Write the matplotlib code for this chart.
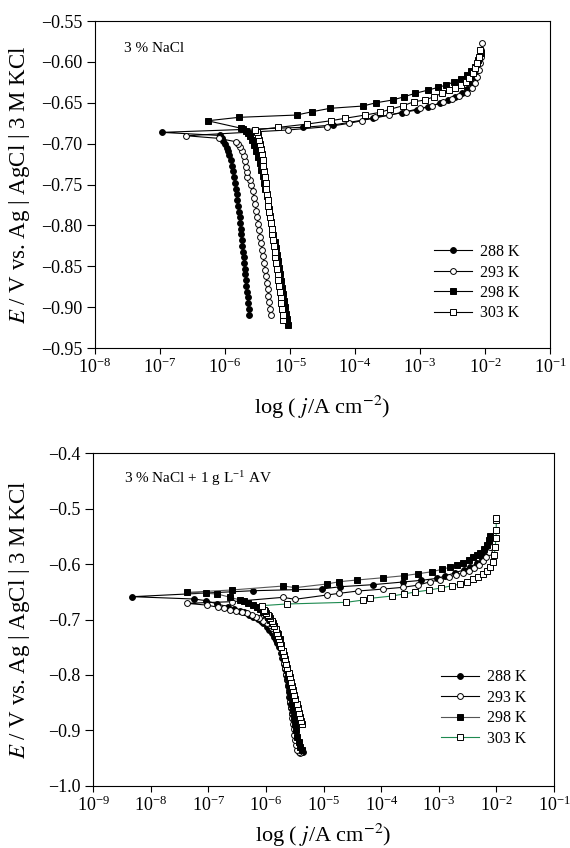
import matplotlib
matplotlib.use("Agg")
import matplotlib.pyplot as plt
import numpy as np
from matplotlib.ticker import FuncFormatter, LogLocator, NullLocator

plt.rcParams['font.family'] = ['Liberation Serif', 'DejaVu Serif']
plt.rcParams['mathtext.fontset'] = 'stix'

temps = ["288 K", "293 K", "298 K", "303 K"]

# ---- panel 1 : 3 % NaCl  (log10 j, E)  cathodic -> Ecorr -> anodic
a_288_logj = [-5.626, -5.634, -5.643, -5.652, -5.661, -5.670, -5.679, -5.688, -5.697, -5.706,
              -5.715, -5.724, -5.732, -5.741, -5.750, -5.759, -5.768, -5.777, -5.787, -5.798,
              -5.809, -5.821, -5.834, -5.848, -5.862, -5.878, -5.895, -5.913, -5.933, -5.955,
              -5.975, -6.00, -6.03, -6.05, -6.077,
              -6.974,
              -4.795, -4.334, -3.718, -3.283, -3.052, -2.872, -2.692, -2.564, -2.462, -2.36,
              -2.283, -2.206, -2.154, -2.128, -2.103]
a_288_E = [-0.909, -0.902, -0.895, -0.888, -0.881, -0.874, -0.867, -0.860, -0.853, -0.846,
           -0.839, -0.832, -0.825, -0.818, -0.811, -0.804, -0.797, -0.790, -0.783, -0.776,
           -0.769, -0.762, -0.755, -0.748, -0.741, -0.734, -0.727, -0.720, -0.714, -0.709,
           -0.705, -0.701, -0.697, -0.693, -0.690,
           -0.6862,
           -0.680, -0.6772, -0.669, -0.6621, -0.6589, -0.6548, -0.6507, -0.6466, -0.6434, -0.6385,
           -0.6336, -0.6262, -0.6181, -0.6099, -0.6017]

a_293_logj = [-5.292, -5.305, -5.318, -5.331, -5.344, -5.357, -5.370, -5.384, -5.398, -5.412,
              -5.427, -5.442, -5.457, -5.472, -5.488, -5.504, -5.520, -5.537, -5.555, -5.574,
              -5.594, -5.610, -5.655, -5.668, -5.683, -5.697, -5.715, -5.737, -5.765, -5.795,
              -5.836, -6.10,
              -6.60,
              -5.035, -4.426, -4.087, -3.897, -3.692, -3.477, -3.215, -3.0, -2.82, -2.642,
              -2.513, -2.40, -2.283, -2.206, -2.154, -2.118, -2.092, -2.077, -2.066, -2.056, -2.046]
a_293_E = [-0.910, -0.902, -0.894, -0.886, -0.878, -0.870, -0.862, -0.854, -0.846, -0.838,
           -0.830, -0.822, -0.814, -0.806, -0.798, -0.790, -0.782, -0.774, -0.766, -0.758,
           -0.750, -0.744, -0.741, -0.735, -0.728, -0.721, -0.715, -0.709, -0.704, -0.700,
           -0.6976, -0.6935,
           -0.6903,
           -0.6833, -0.6793, -0.6751, -0.6719, -0.6678, -0.665, -0.6609, -0.6568, -0.654, -0.6487,
           -0.6454, -0.6415, -0.6377, -0.6323, -0.6262, -0.6181, -0.6099, -0.6017, -0.5937, -0.5855, -0.5773]

a_298_logj = [-5.035, -5.048, -5.062, -5.078, -5.094, -5.110, -5.126, -5.142, -5.158, -5.174,
              -5.190, -5.206, -5.222, -5.238, -5.254, -5.270, -5.287, -5.304, -5.321, -5.339,
              -5.358, -5.378, -5.398, -5.420, -5.443, -5.467, -5.493, -5.520, -5.548, -5.578,
              -5.610, -5.645, -5.680, -5.72, -5.76,
              -6.266,
              -5.785, -4.898, -4.657, -4.385, -3.882, -3.677, -3.42, -3.242, -3.077, -2.872,
              -2.718, -2.60, -2.472, -2.375, -2.283, -2.215, -2.154, -2.103, -2.066]
a_298_E = [-0.922, -0.915, -0.908, -0.900, -0.892, -0.884, -0.876, -0.868, -0.860, -0.852,
           -0.844, -0.836, -0.828, -0.820, -0.812, -0.804, -0.796, -0.788, -0.780, -0.772,
           -0.764, -0.756, -0.748, -0.740, -0.732, -0.724, -0.716, -0.709, -0.702, -0.696,
           -0.691, -0.687, -0.684, -0.682, -0.681,
           -0.672,
           -0.6678, -0.665, -0.6609, -0.6568, -0.654, -0.650, -0.6466, -0.6426, -0.6385, -0.6344,
           -0.6311, -0.6283, -0.6242, -0.6209, -0.616, -0.6112, -0.6059, -0.5977, -0.5895]

a_303_logj = [-5.103, -5.113, -5.124, -5.135, -5.146, -5.157, -5.168, -5.179, -5.190, -5.201,
              -5.212, -5.224, -5.236, -5.248, -5.260, -5.272, -5.284, -5.296, -5.308, -5.320,
              -5.331, -5.342, -5.353, -5.364, -5.375, -5.386, -5.397, -5.409, -5.421, -5.434,
              -5.450, -5.466, -5.482, -5.500, -5.515,
              -5.538,
              -5.18, -4.734, -4.375, -4.154, -3.846, -3.615, -3.462, -3.257, -3.092, -2.923,
              -2.785, -2.667, -2.549, -2.462, -2.375, -2.292, -2.241, -2.19, -2.149, -2.118,
              -2.092, -2.077]
a_303_E = [-0.916, -0.909, -0.902, -0.895, -0.888, -0.881, -0.874, -0.867, -0.860, -0.853,
           -0.846, -0.839, -0.832, -0.825, -0.818, -0.811, -0.804, -0.797, -0.790, -0.783,
           -0.776, -0.769, -0.762, -0.755, -0.748, -0.741, -0.734, -0.727, -0.720, -0.713,
           -0.706, -0.700, -0.695, -0.690, -0.686,
           -0.6833,
           -0.6801, -0.676, -0.672, -0.669, -0.665, -0.6617, -0.658, -0.6535, -0.6487, -0.6466,
           -0.6426, -0.6385, -0.6344, -0.6323, -0.6283, -0.6242, -0.620, -0.614, -0.6079, -0.6017,
           -0.5937, -0.5855]

# ---- panel 2 : 3 % NaCl + 1 g/L AV
b_288_logj = [-5.361, -5.395, -5.425, -5.450, -5.470, -5.488, -5.506, -5.520, -5.534, -5.550,
              -5.565, -5.580, -5.594, -5.608, -5.623, -5.640, -5.657, -5.676, -5.697, -5.720,
              -5.745, -5.782, -5.810, -5.835, -5.865, -5.900, -5.945, -5.990, -6.046, -6.09,
              -6.14, -6.22, -6.30, -6.38, -6.451, -6.55, -6.654, -6.85, -7.042, -7.25,
              -8.322,
              -6.22, -5.031, -4.713, -4.145, -3.623, -3.306, -3.033, -2.889, -2.715, -2.571,
              -2.454, -2.338, -2.251, -2.194, -2.154, -2.12, -2.095]
b_288_E = [-0.9386, -0.9365, -0.933, -0.927, -0.919, -0.910, -0.900, -0.890, -0.880, -0.870,
           -0.860, -0.850, -0.840, -0.830, -0.820, -0.810, -0.800, -0.790, -0.780, -0.770,
           -0.760, -0.750, -0.742, -0.737, -0.731, -0.725, -0.719, -0.713, -0.707, -0.703,
           -0.699, -0.695, -0.691, -0.687, -0.684, -0.681, -0.677, -0.672, -0.666, -0.663,
           -0.6588,
           -0.648, -0.645, -0.6408, -0.6371, -0.6323, -0.6293, -0.6257, -0.6215, -0.6155, -0.6107,
           -0.6047, -0.5986, -0.5913, -0.5836, -0.5745, -0.5625, -0.5505]

b_293_logj = [-5.408, -5.432, -5.455, -5.475, -5.495, -5.510, -5.522, -5.533, -5.544, -5.555,
              -5.566, -5.577, -5.590, -5.603, -5.617, -5.632, -5.648, -5.664, -5.682, -5.702,
              -5.724, -5.747, -5.772, -5.798, -5.825, -5.855, -5.895, -5.94, -5.987, -6.05,
              -6.115, -6.18, -6.248, -6.33, -6.421, -6.52, -6.625, -6.73, -6.828, -7.03,
              -7.377,
              -6.595, -5.709, -5.495, -4.945, -4.725, -4.412, -3.961, -3.623, -3.353, -3.15,
              -2.976, -2.831, -2.698, -2.582, -2.484, -2.397, -2.31, -2.234, -2.176, -2.136, -2.107]
b_293_E = [-0.9415, -0.939, -0.935, -0.927, -0.918, -0.908, -0.898, -0.888, -0.878, -0.868,
           -0.858, -0.848, -0.838, -0.828, -0.818, -0.808, -0.798, -0.788, -0.778, -0.768,
           -0.758, -0.749, -0.741, -0.734, -0.727, -0.721, -0.715, -0.710, -0.706, -0.702,
           -0.698, -0.695, -0.692, -0.689, -0.686, -0.684, -0.682, -0.680, -0.678, -0.674,
           -0.6708,
           -0.6678, -0.660, -0.6635, -0.6558, -0.6527, -0.6486, -0.645, -0.6419, -0.6378, -0.6318,
           -0.6287, -0.6238, -0.6197, -0.6155, -0.6119, -0.6076, -0.6016, -0.5944, -0.5866, -0.5776, -0.5686]

b_298_logj = [-5.38, -5.41, -5.435, -5.455, -5.475, -5.493, -5.510, -5.527, -5.544, -5.561,
              -5.578, -5.596, -5.615, -5.636, -5.658, -5.682, -5.708, -5.735, -5.765, -5.797,
              -5.830, -5.865, -5.900, -5.930, -5.960, -6.000, -6.046, -6.10, -6.161, -6.230,
              -6.307, -6.38, -6.451, -6.62, -6.845, -7.042,
              -7.367,
              -6.595, -5.698, -5.495, -4.945, -4.725, -4.423, -3.961, -3.613, -3.353, -3.12,
              -2.946, -2.814, -2.686, -2.582, -2.484, -2.408, -2.338, -2.28, -2.223, -2.164, -2.13, -2.107]
b_298_E = [-0.935, -0.930, -0.922, -0.912, -0.900, -0.888, -0.876, -0.864, -0.852, -0.840,
           -0.828, -0.816, -0.804, -0.792, -0.780, -0.768, -0.757, -0.746, -0.736, -0.727,
           -0.719, -0.712, -0.706, -0.700, -0.695, -0.690, -0.686, -0.681, -0.677, -0.673,
           -0.6697, -0.667, -0.6648, -0.660, -0.654, -0.6527,
           -0.651,
           -0.6467, -0.6395, -0.6425, -0.6359, -0.6317, -0.6287, -0.6245, -0.621, -0.6173, -0.6137,
           -0.6094, -0.6058, -0.6022, -0.5975, -0.5926, -0.5878, -0.5836, -0.5794, -0.5733, -0.5655, -0.5565, -0.5493]

b_303_logj = [-5.368, -5.385, -5.405, -5.427, -5.449, -5.470, -5.490, -5.510, -5.530, -5.550,
              -5.570, -5.590, -5.610, -5.630, -5.650, -5.670, -5.690, -5.711, -5.732, -5.752,
              -5.772, -5.792, -5.813, -5.833, -5.855, -5.877, -5.900, -5.925, -5.950, -5.975,
              -5.995, -6.020, -6.034,
              -6.075,
              -5.64, -4.61, -4.308, -4.192, -3.815, -3.613, -3.41, -3.162, -2.964, -2.773,
              -2.628, -2.512, -2.408, -2.321, -2.234, -2.164, -2.107, -2.067, -2.037, -2.02,
              -2.008, -2.003, -2.003, -2.003]
b_303_E = [-0.8886, -0.883, -0.876, -0.868, -0.860, -0.852, -0.844, -0.836, -0.828, -0.820,
           -0.812, -0.804, -0.796, -0.788, -0.780, -0.772, -0.764, -0.756, -0.749, -0.742,
           -0.736, -0.730, -0.724, -0.718, -0.712, -0.707, -0.702, -0.698, -0.694, -0.691,
           -0.688, -0.685, -0.6828,
           -0.675,
           -0.672, -0.669, -0.6648, -0.6618, -0.6576, -0.654, -0.6504, -0.6467, -0.6431, -0.639,
           -0.6359, -0.6317, -0.6275, -0.6227, -0.6179, -0.6119, -0.6047, -0.5957, -0.5836, -0.5686,
           -0.5535, -0.5385, -0.5204, -0.517]

top_series = [(a_288_logj, a_288_E), (a_293_logj, a_293_E), (a_298_logj, a_298_E), (a_303_logj, a_303_E)]
bot_series = [(b_288_logj, b_288_E), (b_293_logj, b_293_E), (b_298_logj, b_298_E), (b_303_logj, b_303_E)]

markers = ['o', 'o', 's', 's']
faces = ['black', 'white', 'black', 'white']
top_lines = ['black', 'black', 'black', 'black']
bot_lines = ['black', 'black', '#555555', '#1e8a50']


def neg(fmt):
    return FuncFormatter(lambda v, p: (fmt % v).replace('-', '\u2212'))


def draw(ax, series, lcolors):
    for (lj, e), m, fc, lc, lab in zip(series, markers, faces, lcolors, temps):
        ax.plot(10.0 ** np.array(lj), e, color=lc, lw=0.8, marker=m, ms=4.2,
                mfc=fc, mec='black', mew=0.7, label=lab)
    ax.set_xscale('log')
    ax.xaxis.set_major_locator(LogLocator(base=10, numticks=20))
    ax.xaxis.set_minor_locator(NullLocator())
    ax.tick_params(direction='out', labelsize=13, width=0.8, top=False, right=False)
    ax.tick_params(axis='x', length=4, pad=3)
    ax.tick_params(axis='y', length=5.5, pad=3.5)
    ax.set_xlabel('log ( $j$/A cm$^{-2}$)', fontsize=16, va='top')
    ax.set_ylabel('$E$ / V vs. Ag | AgCl | 3 M KCl', fontsize=16.5)
    for s in ax.spines.values():
        s.set_linewidth(0.8)


fig = plt.figure(figsize=(5.7, 8.48), dpi=100)

ax1 = fig.add_axes([0.1667, 0.5896, 0.7982, 0.3856])
draw(ax1, top_series, top_lines)
ax1.set_xlim(1e-8, 1e-1)
ax1.set_ylim(-0.95, -0.55)
ax1.set_yticks(np.arange(-0.95, -0.549, 0.05))
ax1.yaxis.set_major_formatter(neg('%.2f'))
ax1.xaxis.set_label_coords(0.5, -0.14)
ax1.yaxis.set_label_coords(-0.139, 0.5)
ax1.text(0.063, 0.915, '3 % NaCl', transform=ax1.transAxes, fontsize=11, va='center')
ax1.legend(loc='upper left', bbox_to_anchor=(0.745, 0.318), frameon=False, fontsize=11.5,
           handlelength=2.4, handletextpad=0.5, labelspacing=0.28, borderpad=0, borderaxespad=0)

ax2 = fig.add_axes([0.1637, 0.0735, 0.8082, 0.3919])
draw(ax2, bot_series, bot_lines)
ax2.set_xlim(1e-9, 1e-1)
ax2.set_ylim(-1.0, -0.4)
ax2.set_yticks(np.arange(-1.0, -0.39, 0.1))
ax2.yaxis.set_major_formatter(neg('%.1f'))
ax2.xaxis.set_label_coords(0.5, -0.11)
ax2.yaxis.set_label_coords(-0.133, 0.5)
ax2.text(0.066, 0.925, '3 % NaCl + 1 g L$^{\\mathregular{-1}}$ AV', transform=ax2.transAxes,
         fontsize=11, va='center')
ax2.legend(loc='upper left', bbox_to_anchor=(0.755, 0.35), frameon=False, fontsize=11.5,
           handlelength=2.4, handletextpad=0.5, labelspacing=0.28, borderpad=0, borderaxespad=0)

fig.savefig('out.png', dpi=100)
